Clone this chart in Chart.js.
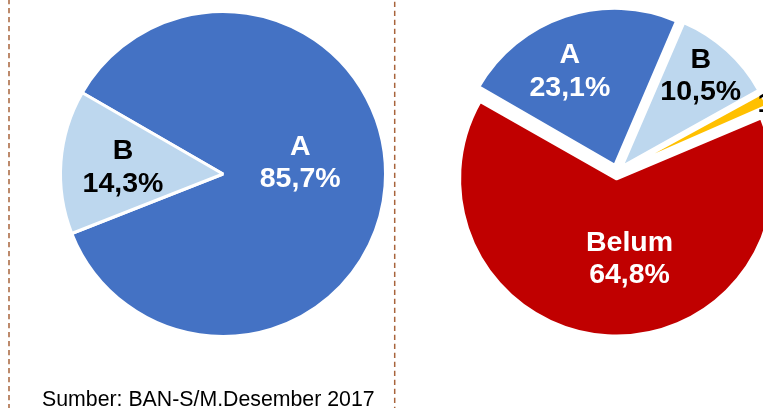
<!DOCTYPE html>
<html><head><meta charset="utf-8">
<script src="https://cdn.jsdelivr.net/npm/chart.js@4.4.1/dist/chart.umd.min.js"></script>
<style>
html,body{margin:0;padding:0;width:763px;height:408px;overflow:hidden;background:#fff;}
#bg{position:absolute;left:0;top:0;}
#c1{position:absolute;left:43px;top:-6px;}
#c2{position:absolute;left:427px;top:-18px;}
#src{position:absolute;left:42px;top:389px;font-family:"Liberation Sans",Arial,sans-serif;font-size:21.3px;line-height:21px;color:#000;white-space:nowrap;}
</style></head><body>
<canvas id="bg" width="763" height="408"></canvas>
<canvas id="c1" width="360" height="360"></canvas>
<canvas id="c2" width="380" height="380"></canvas>
<div id="src">Sumber: BAN-S/M.Desember 2017</div>
<script>
// ---- data ----
const leftCategories = ['A', 'B'];
const leftValues = [85.7, 14.3];
const rightCategories = ['A', 'B', 'C', 'Belum'];
const rightValues = [23.1, 10.5, 1.6, 64.8];

// ---- styles ----
const sliceColors = {A: '#4472C4', B: '#BDD7EE', C: '#FFC000', Belum: '#C00000'};
const textColors = {A: '#FFFFFF', B: '#000000', C: '#000000', Belum: '#FFFFFF'};
const fmt = v => v.toFixed(1).replace('.', ',') + '%';

// dashed separators
(function(){
  const c = document.getElementById('bg').getContext('2d');
  c.strokeStyle = '#A8643C';
  c.lineWidth = 1.5;
  c.setLineDash([5.3, 3.7]);
  c.beginPath(); c.moveTo(9, -1); c.lineTo(9, 410); c.stroke();
  c.beginPath(); c.moveTo(394.7, 1.7); c.lineTo(394.7, 410); c.stroke();
})();

const evenRadius = {
  id: 'evenRadius',
  beforeDatasetsDraw(chart) {
    const meta = chart.getDatasetMeta(0);
    const base = meta.controller.outerRadius;
    meta.data.forEach(arc => {
      const off = (arc.options.offset || 0) / 4;
      const fix = 1 - Math.sin(Math.min(Math.PI, arc.circumference));
      arc.outerRadius = base - off * fix;
    });
  }
};

const pieLabels = {
  id: 'pieLabels',
  afterDatasetsDraw(chart, args, opts) {
    const ctx = chart.ctx;
    const meta = chart.getDatasetMeta(0);
    const ds = chart.data.datasets[0];
    const R = meta.controller.outerRadius;
    ctx.save();
    ctx.font = 'bold 28.5px "Liberation Sans", Arial, sans-serif';
    ctx.textAlign = 'center';
    ctx.textBaseline = 'alphabetic';
    meta.data.forEach((arc, i) => {
      const p = opts.pos[i];
      const mid = (arc.startAngle + arc.endAngle) / 2 + p[1] * Math.PI / 180;
      const cx = arc.x + Math.cos(mid) * p[0] * R;
      const cy = arc.y + Math.sin(mid) * p[0] * R;
      const b1 = cy - (opts.lineStep - opts.capHeight) / 2;
      const name = chart.data.labels[i];
      ctx.fillStyle = textColors[name];
      ctx.fillText(name, cx, b1);
      ctx.fillText(fmt(ds.data[i]), cx, b1 + opts.lineStep);
    });
    ctx.restore();
  }
};

function makePie(id, cats, vals, radius, offset, pos) {
  return new Chart(document.getElementById(id), {
    type: 'pie',
    data: {
      labels: cats,
      datasets: [{
        data: vals,
        backgroundColor: cats.map(c => sliceColors[c]),
        borderColor: '#FFFFFF',
        borderWidth: 3,
        offset: offset,
        radius: radius
      }]
    },
    options: {
      responsive: false,
      animation: false,
      events: [],
      rotation: 300,
      layout: {padding: 0},
      plugins: {
        legend: {display: false},
        tooltip: {enabled: false},
        pieLabels: {pos: pos, lineStep: 32.5, capHeight: 20.4}
      }
    },
    plugins: [evenRadius, pieLabels]
  });
}

makePie('c1', leftCategories, leftValues, 162.5, 0, [[0.482, -14.1], [0.618, 0.7]]);
makePie('c2', rightCategories, rightValues, 157, 28,
  [[0.72, -6.2], [0.822, -1.6], [1.232, -0.4], [0.545, -11.8]]);
</script>
</body></html>
